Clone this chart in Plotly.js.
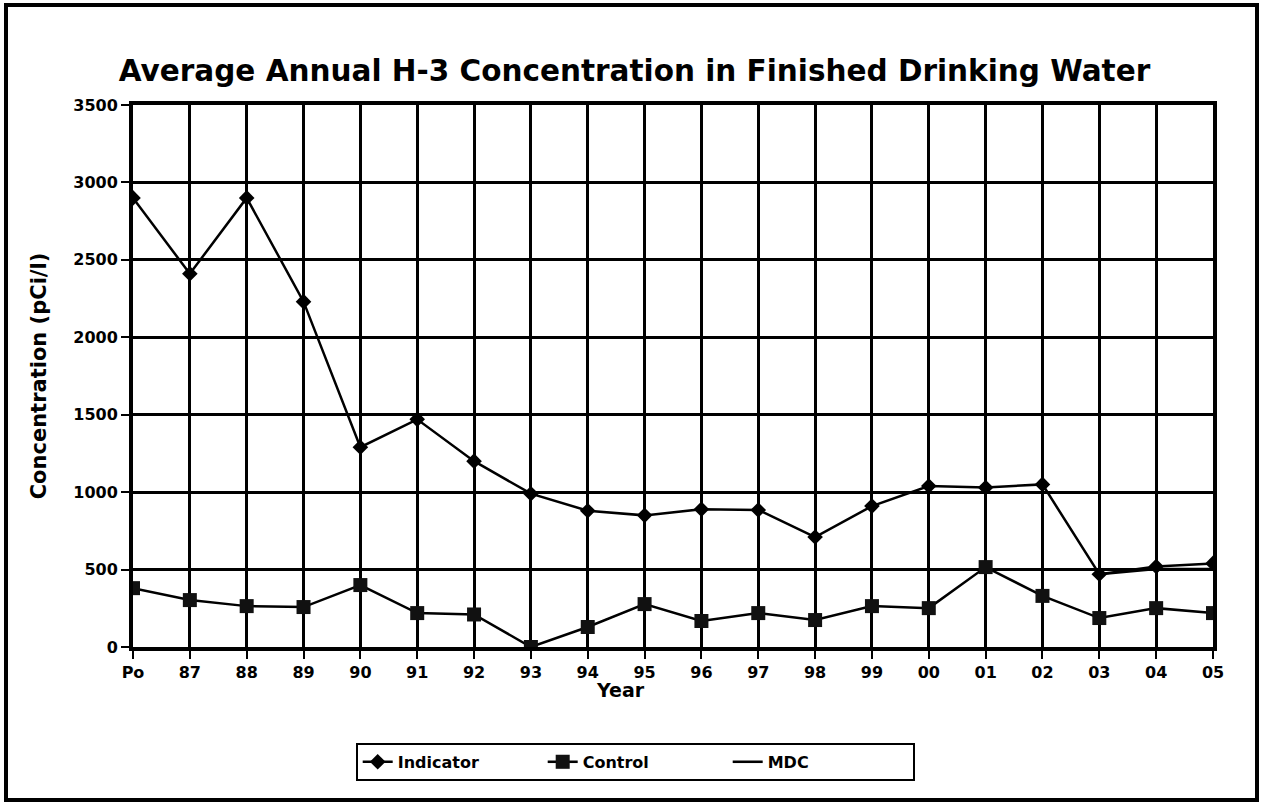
<!DOCTYPE html>
<html>
<head>
<meta charset="utf-8">
<script src="https://cdn.plot.ly/plotly-3.0.1.min.js"></script>
<style>html,body{margin:0;padding:0;background:#fff}#chart{width:1264px;height:808px}</style>
</head>
<body>
<div id="chart"></div>
<script>
const years = ["Po","87","88","89","90","91","92","93","94","95","96","97","98","99","00","01","02","03","04","05"];
const indicator = [2900,2410,2900,2230,1290,1470,1200,990,880,850,890,885,710,910,1040,1030,1050,470,520,540];
const control = [380,303,264,258,400,219,210,0,129,277,168,219,174,264,251,516,330,187,251,219];
const mdc = [null,null,null,null,null,null,null,null,null,null,null,null,null,null,null,null,null,470,503,503];
const yTicks = [0,500,1000,1500,2000,2500,3000,3500];

const F = "'DejaVu Sans', 'Liberation Sans', Arial, sans-serif";
const traces = [
  {x: years, y: indicator, name: "Indicator", type: "scatter", mode: "lines+markers",
   line: {color: "#000", width: 2.5}, marker: {symbol: "diamond", size: 12, color: "#000"}},
  {x: years, y: control, name: "Control", type: "scatter", mode: "lines+markers",
   line: {color: "#000", width: 2.5}, marker: {symbol: "square", size: 14, color: "#111"}},
  {x: years, y: mdc, name: "MDC", type: "scatter", mode: "lines",
   line: {color: "#000", width: 2.5}}
];
const layout = {
  width: 1264, height: 808,
  margin: {l: 133, r: 51, t: 105, b: 161},
  paper_bgcolor: "#fff", plot_bgcolor: "#fff",
  font: {family: F, color: "#000"},
  title: {text: "<b>Average Annual H-3 Concentration in Finished Drinking Water</b>",
          font: {family: F, size: 29.5, color: "#000"}, x: 0.502, xanchor: "center", y: 0.913, yanchor: "middle"},
  xaxis: {type: "category", range: [0, years.length - 1], showgrid: true, gridcolor: "#000", gridwidth: 3,
          ticks: "outside", ticklen: 8, tickwidth: 2, tickcolor: "#000",
          showline: true, linecolor: "#000", linewidth: 4, mirror: true, zeroline: false,
          tickfont: {family: F, size: 16, color: "#000", weight: "bold"}},
  yaxis: {range: [0, 3500], tickvals: yTicks, ticktext: yTicks.map(String), showgrid: true, gridcolor: "#000", gridwidth: 3,
          ticks: "outside", ticklen: 8, tickwidth: 2, tickcolor: "#000",
          showline: true, linecolor: "#000", linewidth: 4, mirror: true, zeroline: false,
          tickfont: {family: F, size: 16, color: "#000", weight: "bold"},
          title: {text: "<b>Concentration (pCi/l)</b>", font: {family: F, size: 21, color: "#000"}, standoff: 22}},
  showlegend: true,
  legend: {orientation: "h", x: 0.465, xanchor: "center", y: -0.212, yanchor: "middle",
           bordercolor: "#000", borderwidth: 2, bgcolor: "#fff", entrywidth: 140,
           font: {family: F, size: 16, color: "#000", weight: "bold"}},
  annotations: [
    {text: "<b>Year</b>", xref: "paper", yref: "paper", x: (620 - 133) / 1080, y: -(690 - 647) / 542,
     xanchor: "center", yanchor: "middle", showarrow: false, font: {family: F, size: 19, color: "#000"}}
  ],
  shapes: [
    {type: "rect", xref: "paper", yref: "paper", x0: -(127) / 1080, x1: 1 + 44 / 1080, y0: -(153) / 542, y1: 1 + 100 / 542,
     line: {color: "#000", width: 4}}
  ]
};
Plotly.newPlot("chart", traces, layout, {displayModeBar: false, staticPlot: true});
</script>
</body>
</html>
